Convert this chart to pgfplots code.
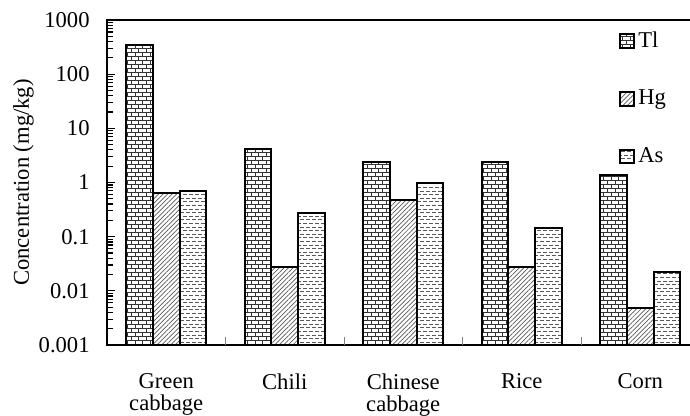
\documentclass[border=0pt]{standalone}
\usepackage{fontspec}
\setmainfont{Liberation Serif}
\usepackage{pgfplots}
\pgfplotsset{compat=1.18}
\usetikzlibrary{patterns,patterns.meta}

% brick fill for Tl
\tikzdeclarepattern{
  name=tlbricks,
  type=uncolored,
  bottom left={(-.2pt,-.2pt)},
  top right={(3.95pt,4.2pt)},
  tile size={(3.75pt,4pt)},
  code={
    \draw[line width=0.45pt]
      (0,0) -- (3.75pt,0) (0,2pt) -- (3.75pt,2pt)
      (0,0) -- (0,2pt) (1.875pt,2pt) -- (1.875pt,4pt);
  }
}
% short horizontal dashes for As
\tikzdeclarepattern{
  name=asdashes,
  type=uncolored,
  bottom left={(-.2pt,-.2pt)},
  top right={(3.2pt,3.8pt)},
  tile size={(3pt,3.6pt)},
  code={
    \draw[line width=0.45pt]
      (0,0.9pt) -- (2pt,0.9pt)
      (1.5pt,2.7pt) -- (3pt,2.7pt) (0,2.7pt) -- (0.5pt,2.7pt);
  }
}

\begin{document}
\begin{tikzpicture}
\begin{axis}[
  name=ax,
  scale only axis,
  width=296.25pt, height=162.5pt,
  font=\fontsize{11.3}{11.3}\selectfont,
  ymode=log,
  log origin y=infty,
  ymin=0.001, ymax=1000,
  ytick={0.001,0.01,0.1,1,10,100,1000},
  yticklabels={0.001,0.01,0.1,1,10,100,1000},
  extra y ticks={0.002,0.003,0.004,0.005,0.006,0.007,0.008,0.009,
               0.02,0.03,0.04,0.05,0.06,0.07,0.08,0.09,
               0.2,0.3,0.4,0.5,0.6,0.7,0.8,0.9,
               2,3,4,5,6,7,8,9,
               20,30,40,50,60,70,80,90,
               200,300,400,500,600,700,800,900},
  extra y tick labels={},
  extra y tick style={major tick length=2.2pt, tick align=inside},
  ytick pos=left,
  yticklabel style={inner sep=0pt, xshift=-8.5pt},
  xmin=-0.5, xmax=4.5,
  xtick={0,1,2,3,4},
  xticklabels={{Green\\cabbage},Chili,{Chinese\\cabbage},Rice,Corn},
  xticklabel style={align=center, inner sep=0pt, anchor=north, yshift=-10pt},
  xtick pos=bottom,
  x tick style={draw=none},
  extra x ticks={0.5,1.5,2.5,3.5},
  extra x tick labels={},
  extra x tick style={tick align=inside, x tick style={draw=gray, line width=0.5pt}},
  tick align=inside,
  major tick length=4pt,
  tick style={black, line width=0.6pt},
  axis line style={line width=1pt},
  ylabel={Concentration (mg/kg)},
  every axis y label/.style={at={(axis description cs:-0.141,0.5)}, rotate=90, anchor=center},
  ybar,
  bar width=0.224,
  legend style={draw=none, fill=none, at={(axis description cs:0.864,0.974)}, anchor=north west,
    row sep=16.8pt, inner sep=0pt, nodes={inner sep=1.5pt}, font=\fontsize{11.3}{11.3}\selectfont},
  legend cell align=left,
  legend image code/.code={\draw[#1, line width=1pt] (0pt,-3.4pt) rectangle (7pt,3.4pt);},
]
% Tl
\addplot[bar shift=-0.224, draw=black, line width=1pt, pattern=tlbricks, pattern color=black!80]
  coordinates {(0,345) (1,4.1) (2,2.35) (3,2.35) (4,1.38)};
% Hg
\addplot[bar shift=0, draw=black, line width=1pt,
  pattern={Lines[angle=45, distance=1.6pt, line width=0.35pt]}, pattern color=black!65]
  coordinates {(0,0.63) (1,0.028) (2,0.48) (3,0.028) (4,0.0049)};
% As
\addplot[bar shift=0.224, draw=black, line width=1pt, pattern=asdashes, pattern color=black!65]
  coordinates {(0,0.70) (1,0.27) (2,0.97) (3,0.147) (4,0.022)};
\legend{Tl,Hg,As}
\end{axis}
% page frame: the right border of the plot box falls just outside
\pgfresetboundingbox
\path[use as bounding box] ([xshift=-53.5pt,yshift=-35.5pt]ax.south west)
  rectangle ([xshift=291.5pt,yshift=172.5pt]ax.south west);
\end{tikzpicture}
\end{document}
